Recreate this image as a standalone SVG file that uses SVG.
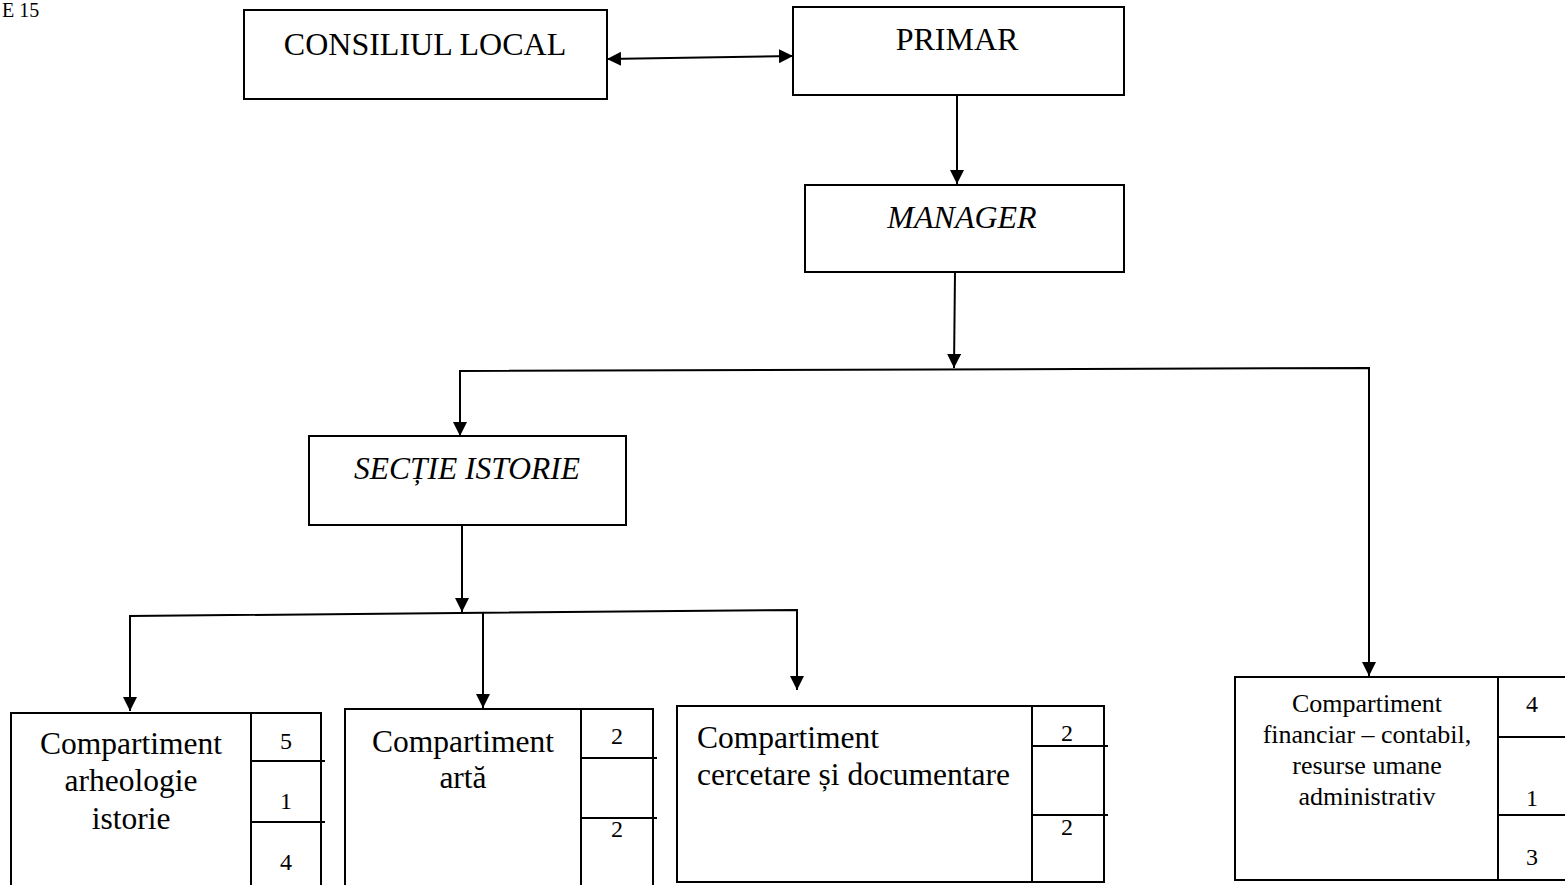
<svg xmlns="http://www.w3.org/2000/svg" width="1565" height="885" viewBox="0 0 1565 885" font-family="'Liberation Serif', 'DejaVu Serif', serif">
<defs>
<marker id="ah" viewBox="0 0 10 10" refX="10" refY="5" markerWidth="14" markerHeight="14" markerUnits="userSpaceOnUse" orient="auto-start-reverse">
<path d="M0,0 L10,5 L0,10 z" fill="#000"/>
</marker>
</defs>
<style>
.box{fill:#fff;stroke:#000;stroke-width:2}
.ln{fill:none;stroke:#000;stroke-width:2}
.c{text-anchor:middle}
.t32{font-size:32px}
.t28{font-size:31.5px}
.t22{font-size:26px}
.it{font-style:italic}
.num{font-size:24px;text-anchor:middle}
</style>
<rect width="1565" height="885" fill="#fff"/>
<text x="2" y="17" font-size="20">E 15</text>
<g id="connectors">
<line class="ln" x1="607" y1="59" x2="793" y2="56" marker-start="url(#ah)" marker-end="url(#ah)"/>
<line class="ln" x1="957" y1="95" x2="957" y2="184" marker-end="url(#ah)"/>
<line class="ln" x1="955" y1="272" x2="954" y2="368" marker-end="url(#ah)"/>
<polyline class="ln" points="460,436 460,371 1369,368 1369,676" marker-start="url(#ah)" marker-end="url(#ah)"/>
<line class="ln" x1="462" y1="525" x2="462" y2="612" marker-end="url(#ah)"/>
<polyline class="ln" points="130,711 130,616 797,610 797,690" marker-start="url(#ah)" marker-end="url(#ah)"/>
<line class="ln" x1="483" y1="613" x2="483" y2="708" marker-end="url(#ah)"/>
</g>
<g id="consiliul">
<rect class="box" x="244" y="10" width="363" height="89"/>
<text class="t32 c" x="425" y="55">CONSILIUL LOCAL</text>
</g>
<g id="primar">
<rect class="box" x="793" y="7" width="331" height="88"/>
<text class="t32 c" x="957" y="50">PRIMAR</text>
</g>
<g id="manager">
<rect class="box" x="805" y="185" width="319" height="87"/>
<text class="t32 c it" x="962" y="228">MANAGER</text>
</g>
<g id="sectie">
<rect class="box" x="309" y="436" width="317" height="89"/>
<text class="t28 c it" x="467" y="479">SECȚIE ISTORIE</text>
</g>
<g id="arheologie">
<rect class="box" x="11" y="713" width="310" height="180"/>
<line class="ln" x1="251" y1="713" x2="251" y2="885"/>
<line class="ln" x1="251" y1="761" x2="325" y2="761"/>
<line class="ln" x1="251" y1="822" x2="325" y2="822"/>
<text class="t28 c" x="131" y="754">Compartiment</text>
<text class="t28 c" x="131" y="791">arheologie</text>
<text class="t28 c" x="131" y="829">istorie</text>
<text class="num" x="286" y="749">5</text>
<text class="num" x="286" y="809">1</text>
<text class="num" x="286" y="870">4</text>
</g>
<g id="arta">
<rect class="box" x="345" y="709" width="308" height="184"/>
<line class="ln" x1="581" y1="709" x2="581" y2="885"/>
<line class="ln" x1="581" y1="758" x2="657" y2="758"/>
<line class="ln" x1="581" y1="818" x2="657" y2="818"/>
<text class="t28 c" x="463" y="752">Compartiment</text>
<text class="t28 c" x="463" y="788">artă</text>
<text class="num" x="617" y="744">2</text>
<text class="num" x="617" y="837">2</text>
</g>
<g id="cercetare">
<rect class="box" x="677" y="706" width="427" height="176"/>
<line class="ln" x1="1032" y1="706" x2="1032" y2="882"/>
<line class="ln" x1="1032" y1="746" x2="1108" y2="746"/>
<line class="ln" x1="1032" y1="815" x2="1108" y2="815"/>
<text class="t28" x="697" y="748">Compartiment</text>
<text class="t28" x="697" y="785">cercetare și documentare</text>
<text class="num" x="1067" y="741">2</text>
<text class="num" x="1067" y="835">2</text>
</g>
<g id="financiar">
<rect class="box" x="1235" y="677" width="340" height="203"/>
<line class="ln" x1="1498" y1="677" x2="1498" y2="880"/>
<line class="ln" x1="1498" y1="737" x2="1565" y2="737"/>
<line class="ln" x1="1498" y1="815" x2="1565" y2="815"/>
<text class="t22 c" x="1367" y="712">Compartiment</text>
<text class="t22 c" x="1367" y="743">financiar – contabil,</text>
<text class="t22 c" x="1367" y="774">resurse umane</text>
<text class="t22 c" x="1367" y="805">administrativ</text>
<text class="num" x="1532" y="712">4</text>
<text class="num" x="1532" y="806">1</text>
<text class="num" x="1532" y="865">3</text>
</g>
</svg>
